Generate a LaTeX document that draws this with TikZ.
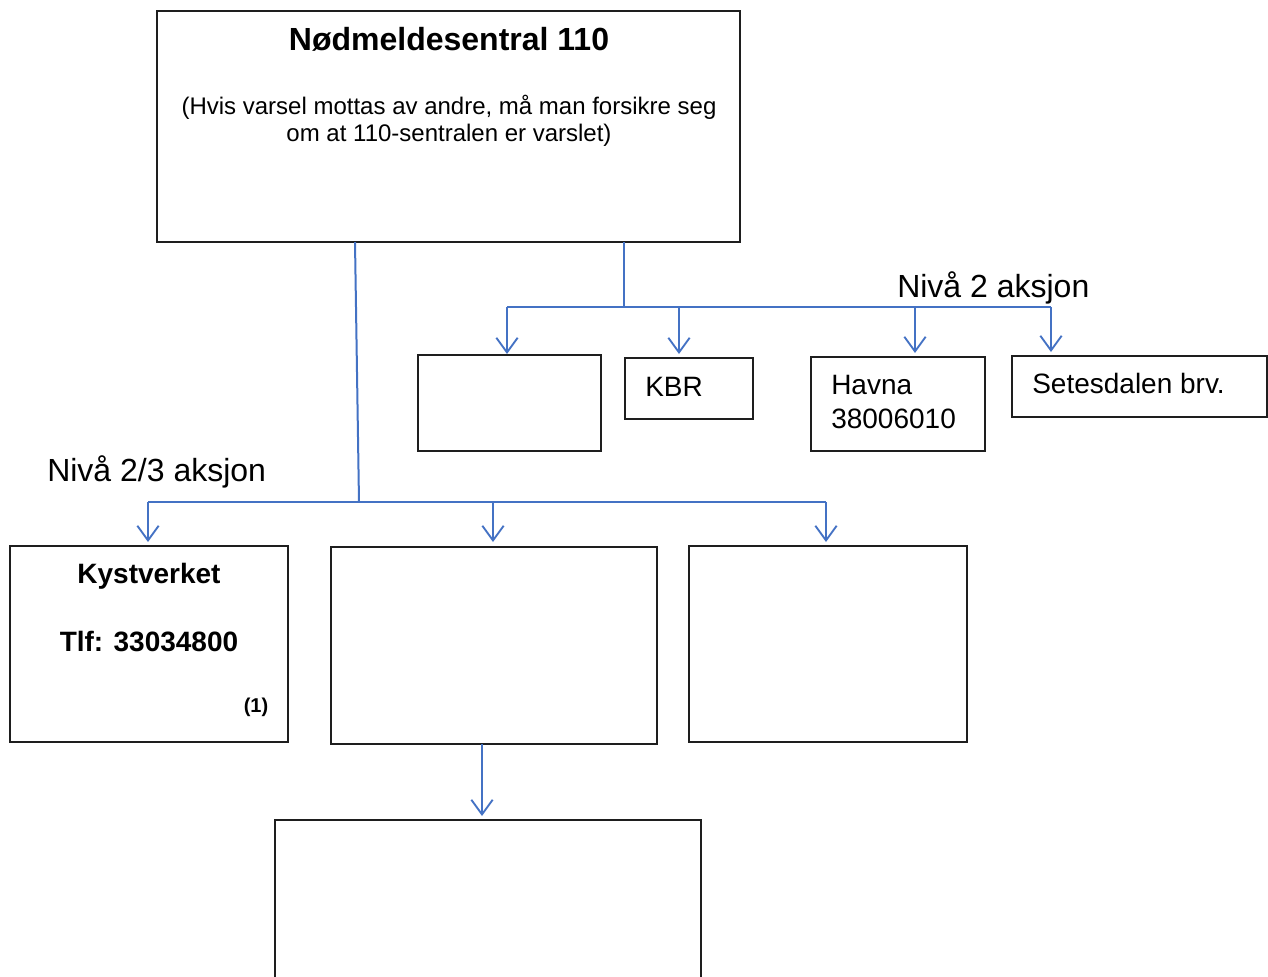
\documentclass[tikz,border=0pt]{standalone}
\usepackage{fontspec}
\setmainfont{Liberation Sans}
\usetikzlibrary{arrows.meta,fit}
\definecolor{linkblue}{RGB}{68,114,196}
\definecolor{boxline}{RGB}{30,30,30}
\begin{document}
\begin{tikzpicture}[x=0.75pt,y=-0.75pt,
  box/.style={draw=boxline, line width=1pt, inner sep=0pt},
  conn/.style={draw=linkblue, line width=1.5pt},
  arr/.style={conn, -{Straight Barb[length=11pt,width=16pt,line width=1.4pt]}},
  big/.style={inner sep=0pt, font=\fontsize{24}{28}\selectfont},
  mid/.style={inner sep=0pt, font=\fontsize{21}{25}\selectfont},
  midb/.style={inner sep=0pt, font=\bfseries\fontsize{21}{25}\selectfont},
  small/.style={inner sep=0pt, font=\fontsize{18}{20.5}\selectfont, align=center},
]
\useasboundingbox (0,0) rectangle (1268,976);
\clip (0,0) rectangle (1268,976);

% boxes
\node[box, fit={(157,11)(740,242)}] (top) {};
\node[box, fit={(418,355)(601,451)}] (b1) {};
\node[box, fit={(625,358)(753,419)}] (kbr) {};
\node[box, fit={(811,357)(985,451)}] (havna) {};
\node[box, fit={(1012,356)(1267,417)}] (setes) {};
\node[box, fit={(10,546)(288,742)}] (kyst) {};
\node[box, fit={(331,547)(657,744)}] (m2) {};
\node[box, fit={(689,546)(967,742)}] (m3) {};
\node[box, fit={(275,820)(701,1000)}] (bot) {};

% texts
\node[inner sep=0pt, anchor=base, font=\bfseries\fontsize{24}{28}\selectfont] (title) at (449,50) {Nødmeldesentral 110};
\node[small, anchor=base] (sub1) at (449,114) {(Hvis varsel mottas av andre, må man forsikre seg};
\node[small, anchor=base] (sub2) at (449,141) {om at 110-sentralen er varslet)};
\node[big, anchor=base west] (niva2) at (897,297) {Nivå 2 aksjon};
\node[big, anchor=base west] (niva23) at (47,481) {Nivå 2/3 aksjon};
\node[mid, anchor=base west] (kbrtxt) at (645,396) {KBR};
\node[mid, anchor=base west] (havtxt1) at (831,394) {Havna};
\node[mid, anchor=base west] (havtxt2) at (831,428) {38006010};
\node[mid, anchor=base west] (settxt) at (1032,393) {Setesdalen brv.};
\node[midb, anchor=base] (kysttxt) at (149,583) {Kystverket};
\node[midb, anchor=base] (tlftxt) at (149,651) {Tlf: 33034800};
\node[inner sep=0pt, anchor=base, font=\bfseries\fontsize{15}{18}\selectfont] (one) at (256,712) {(1)};

% junction coordinates
\coordinate (s1) at (355,242);
\coordinate (j1) at (359,502);
\coordinate (s2) at (624,242);
\coordinate (j2) at (624,307);
\coordinate (tA) at (507,354);
\coordinate (tK) at (679,354);
\coordinate (tH) at (915,353);
\coordinate (tS) at (1051,352);
\coordinate (tL1) at (148,542);
\coordinate (tL2) at (493,542);
\coordinate (tL3) at (826,542);
\coordinate (s3) at (482,744);
\coordinate (tB) at (482,816);

% connectors: level 2
\draw[conn] (s2) -- (j2);
\draw[conn] (tA |- j2) -- (tS |- j2);
\draw[arr] (tA |- j2) -- (tA);
\draw[arr] (tK |- j2) -- (tK);
\draw[arr] (tH |- j2) -- (tH);
\draw[arr] (tS |- j2) -- (tS);

% connectors: level 2/3
\draw[conn] (s1) -- (j1);
\draw[conn] (tL1 |- j1) -- (tL3 |- j1);
\draw[arr] (tL1 |- j1) -- (tL1);
\draw[arr] (tL2 |- j1) -- (tL2);
\draw[arr] (tL3 |- j1) -- (tL3);

% down to bottom box
\draw[arr] (s3) -- (tB);
\end{tikzpicture}
\end{document}
